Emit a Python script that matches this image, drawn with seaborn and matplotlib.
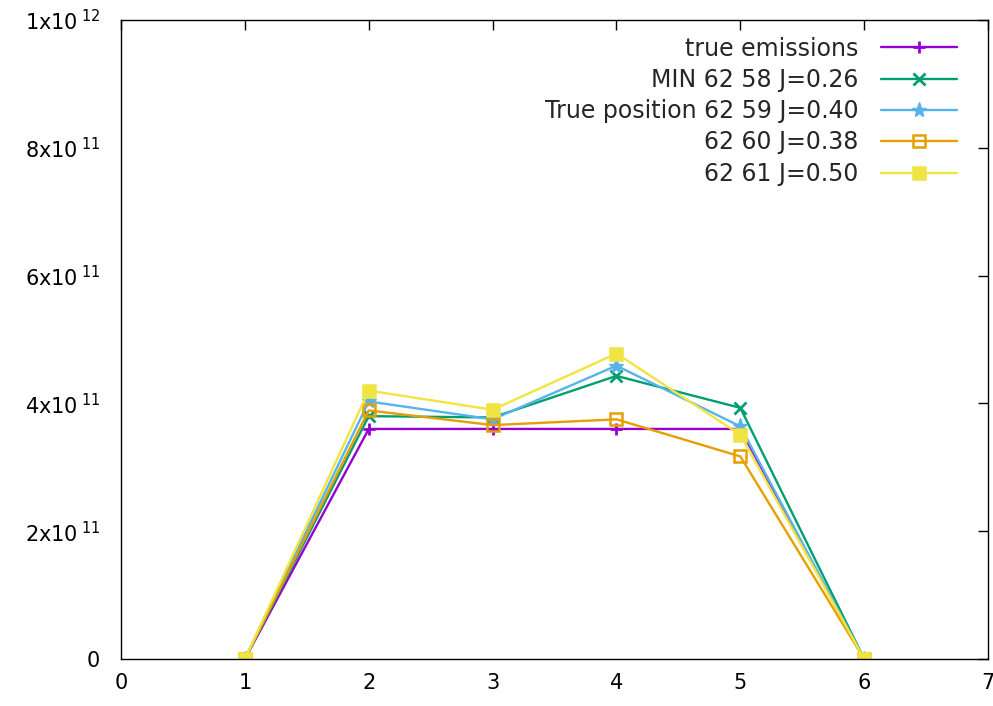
import matplotlib
matplotlib.use("Agg")
import matplotlib.pyplot as plt
import seaborn as sns
import numpy as np
from matplotlib.ticker import FuncFormatter, MultipleLocator

sns.set_theme(style="white")
plt.rcParams['font.family'] = ['DejaVu Sans']
plt.rcParams['mathtext.default'] = 'regular'

x_vals = [1, 2, 3, 4, 5, 6]
true_emissions = [0, 3.60e11, 3.60e11, 3.60e11, 3.60e11, 0]
min_62_58 = [0, 3.80e11, 3.78e11, 4.43e11, 3.93e11, 0]
true_pos_62_59 = [0, 4.03e11, 3.75e11, 4.59e11, 3.64e11, 0]
s_62_60 = [0, 3.89e11, 3.66e11, 3.75e11, 3.17e11, 0]
s_62_61 = [0, 4.20e11, 3.90e11, 4.78e11, 3.51e11, 0]

labels = ["true emissions", "MIN 62 58 J=0.26", "True position 62 59 J=0.40",
          "62 60 J=0.38", "62 61 J=0.50"]
series = [true_emissions, min_62_58, true_pos_62_59, s_62_60, s_62_61]
colors = ["#9400d3", "#009e73", "#56b4e9", "#e69f00", "#f0e442"]
markers = ["+", "x", "*", "s", "s"]
mfcs = [None, None, None, "none", None]

FS = 15
LFS = 17

fig = plt.figure(figsize=(9.93, 7.06), dpi=100)
ax = fig.add_axes([0.1219, 0.0666, 0.995 - 0.1219, 0.9717 - 0.0666])

for lab, ys, c, m, mfc in zip(labels, series, colors, markers, mfcs):
    kw = dict(markersize=9, markeredgewidth=2.0)
    if m == "*":
        kw["markersize"] = 11
        kw["markeredgewidth"] = 1.0
    if m == "s":
        kw["markersize"] = 8
        kw["markeredgewidth"] = 1.8
    kw["markerfacecolor"] = mfc if mfc is not None else c
    kw["markeredgecolor"] = c
    sns.lineplot(x=x_vals, y=ys, ax=ax, color=c, marker=m, label=lab,
                 linewidth=1.7, **kw)

ax.set_xlim(0, 7)
ax.set_ylim(0, 1e12)
ax.xaxis.set_major_locator(MultipleLocator(1))
ax.yaxis.set_major_locator(MultipleLocator(2e11))

def yfmt(v, pos):
    if abs(v) < 1:
        return "0"
    e = int(np.floor(np.log10(abs(v)) + 1e-9))
    m = v / 10 ** e
    return r"$%gx10^{\;%d}$" % (round(m, 3), e)

ax.yaxis.set_major_formatter(FuncFormatter(yfmt))
ax.tick_params(axis="both", direction="in", length=7, width=1, top=True, right=True,
               labelsize=FS, colors="black")
ax.tick_params(axis="y", pad=15)
ax.tick_params(axis="x", pad=10)
for sp in ax.spines.values():
    sp.set_color("black")
    sp.set_linewidth(1.0)
ax.set_xlabel("")
ax.set_ylabel("")

leg = ax.legend(loc="upper right", frameon=False, markerfirst=False, fontsize=LFS,
                handlelength=3.2, handletextpad=0.95, labelspacing=0.31,
                bbox_to_anchor=(0.983, 1.0), borderaxespad=0.3)

fig.savefig("out.png", dpi=100)
